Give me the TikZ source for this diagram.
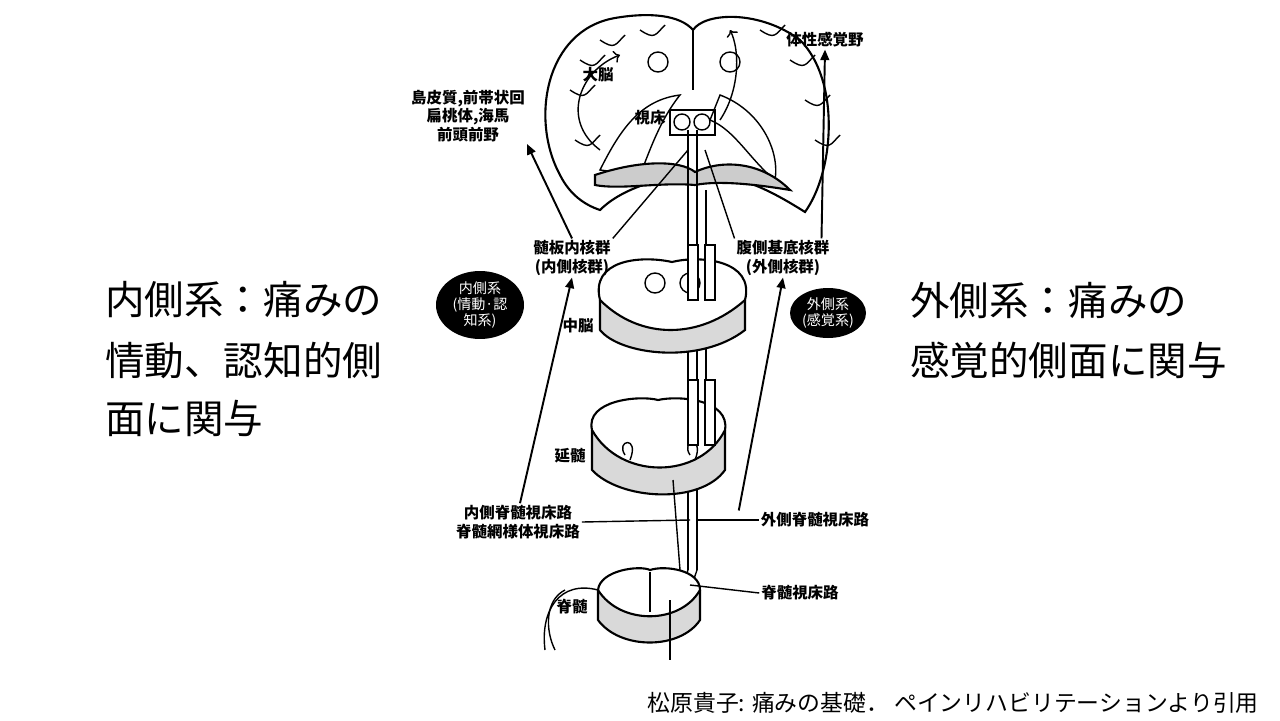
\documentclass[tikz,border=0pt]{standalone}
\usepackage{fontspec}
\setmainfont{Noto Sans CJK JP}
\usetikzlibrary{arrows.meta,shapes.geometric}
\begin{document}
\begin{tikzpicture}[x=0.02cm,y=-0.02cm,
 big/.style={font=\fontsize{22.5}{28}\selectfont,anchor=west,inner sep=0},
 lab/.style={font=\fontsize{8.8}{10.5}\selectfont\bfseries,align=center,inner sep=1},
 oval/.style={ellipse,fill=black,text=white,font=\fontsize{8}{9}\selectfont,align=center,inner sep=0},
 arr/.style={-{Triangle[length=6pt,width=5pt]},line width=1.1pt},
 anat/.style={draw=black,line width=1.2pt,fill=white},
 thin/.style={draw=black,line width=0.8pt}]
\useasboundingbox (0,0) rectangle (1280,720);
\fill[white] (0,0) rectangle (1280,720);
% big texts
\node[big] (l1) at (105,300) {内側系：痛みの};
\node[big] (l2) at (105,360) {情動、認知的側};
\node[big] (l3) at (105,418) {面に関与};
\node[big] (r1) at (910,300) {外側系：痛みの};
\node[big] (r2) at (910,360) {感覚的側面に関与};
\node[font=\fontsize{13}{15}\selectfont,anchor=east] (src) at (1265,703) {松原貴子: 痛みの基礎．\ ペインリハビリテーションより引用};
% brain
\draw[anat] (560,175) .. controls (530,120) and (545,30) .. (615,18) .. controls (650,12) and (680,15) .. (693,30)
 .. controls (705,12) and (760,10) .. (800,40) .. controls (840,80) and (835,170) .. (805,212)
 .. controls (770,190) and (740,175) .. (705,175) .. controls (660,175) and (620,190) .. (600,210) .. controls (585,205) and (570,195) .. (560,175) -- cycle;
\draw[thin] (693,30) -- (693,90);
\foreach \a/\b in {570/90,580/60,600/40,640/30,760/30,790/60,805/100,815/140,575/140}
 \draw[thin] (\a,\b) .. controls +(15,10) and +(-10,10) .. +(25,-5);
\draw[thin,fill=white] (600,170) .. controls (620,130) and (640,100) .. (680,95) .. controls (660,120) and (650,150) .. (640,175) -- cycle;
\draw[thin,fill=white] (720,95) .. controls (760,110) and (780,150) .. (775,180) .. controls (750,160) and (735,130) .. (710,120) -- cycle;
\draw[thin] (670,110) rectangle (715,135);
\draw[thin] (682,122) circle (8); \draw[thin] (702,122) circle (8);
\draw[thin] (658,62) circle (10); \draw[thin] (730,62) circle (10);
\draw[anat,fill=gray!40] (595,175) .. controls (640,160) and (680,160) .. (695,172) .. controls (720,160) and (760,160) .. (790,190) .. controls (760,185) and (720,180) .. (695,185) .. controls (660,182) and (620,190) .. (595,185) -- cycle;
\draw[thin,->] (600,150) .. controls (560,120) and (580,70) .. (620,55);
\draw[thin,->] (720,120) .. controls (740,90) and (740,50) .. (730,30);
% tract
\draw[thin] (688,130) -- (688,570) (697,130) -- (697,570) (706,190) -- (706,430);
% midbrain
\draw[anat,fill=gray!30] (600,300) -- (600,330) .. controls (620,355) and (700,365) .. (745,330) -- (745,300);
\draw[anat] (600,300) .. controls (590,260) and (640,255) .. (672,262) .. controls (700,255) and (755,260) .. (745,300) .. controls (700,340) and (640,340) .. (600,300) -- cycle;
\draw[thin] (655,283) circle (10); \draw[thin] (690,283) circle (10);
\draw[thin,fill=white] (688,245) rectangle (698,300); \draw[thin,fill=white] (705,245) rectangle (715,300);
% medulla
\draw[anat,fill=gray!30] (592,430) -- (592,470) .. controls (620,500) and (700,505) .. (725,470) -- (725,430);
\draw[anat] (592,430) .. controls (585,400) and (640,395) .. (658,400) .. controls (680,395) and (730,400) .. (725,430) .. controls (700,480) and (620,480) .. (592,430) -- cycle;
\draw[thin] (625,455) .. controls (615,440) and (640,435) .. (630,460);
\draw[thin] (690,455) .. controls (680,440) and (705,435) .. (695,460);
\draw[thin,fill=white] (688,380) rectangle (698,445); \draw[thin,fill=white] (705,380) rectangle (715,445);
% spinal cord
\draw[thin] (688,570) -- (670,620) (697,570) -- (680,620) (673,480) -- (680,570);
\draw[anat,fill=gray!30] (598,590) -- (598,620) .. controls (620,650) and (680,650) .. (700,620) -- (700,590);
\draw[anat] (598,590) .. controls (600,570) and (640,565) .. (650,570) .. controls (665,565) and (700,570) .. (700,590) .. controls (680,625) and (620,625) .. (598,590) -- cycle;
\draw[thin] (650,572) -- (650,612);
\draw[thin] (598,590) .. controls (560,580) and (540,610) .. (545,650);
\draw[thin] (565,590) .. controls (545,600) and (545,630) .. (555,650);
\draw[thin] (670,600) -- (670,660);
% labels
\node[lab] (som) at (825,40) {体性感覚野};
\node[lab] (dai) at (598,75) {大脳};
\node[lab] (shi) at (650,118) {視床};
\node[lab] (ins) at (468,116) {島皮質,前帯状回\\扁桃体,海馬\\前頭前野};
\node[lab] (zui) at (572,258) {髄板内核群\\(内側核群)};
\node[lab] (fuku) at (783,258) {腹側基底核群\\(外側核群)};
\node[lab] (chu) at (578,326) {中脳};
\node[lab] (en) at (570,456) {延髄};
\node[lab] (nai) at (518,522) {内側脊髄視床路\\脊髄網様体視床路};
\node[lab] (gai) at (815,520) {外側脊髄視床路};
\node[lab] (sek) at (800,593) {脊髄視床路};
\node[lab] (sz) at (572,607) {脊髄};
\node[oval,minimum width=1.76cm,minimum height=1.36cm] (ov1) at (480,305) {内側系\\(情動·認\\知系)};
\node[oval,minimum width=1.52cm,minimum height=1.0cm] (ov2) at (828,313) {外側系\\(感覚系)};
% connectors
\draw[arr] (nai.north) ++(2,0) coordinate (n0) -- (zui.south);
\draw[arr] (zui.north) -- (ins.south east);
\draw[arr] (gai.north west) ++(-20,0) coordinate (g0) -- (fuku.south);
\draw[arr] (fuku.north east) ++(-10,0) coordinate (f0) -- (som.south);
\draw[thin] (nai.east) -- (690,520);
\draw[thin] (gai.west) -- (697,520);
\draw[thin] (sek.west) -- (690,585);
\draw[thin] (zui.north east) -- (688,150);
\draw[thin] (fuku.north west) -- (705,150);
\end{tikzpicture}
\end{document}
